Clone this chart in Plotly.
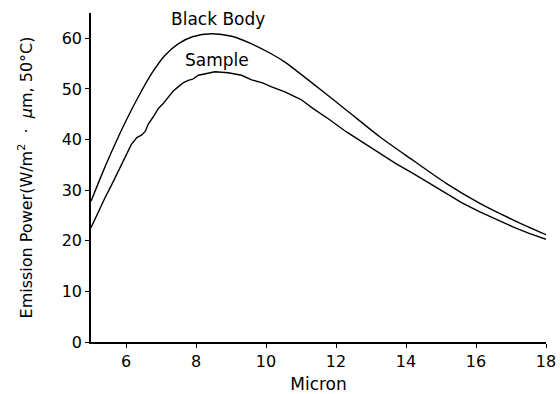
import plotly.graph_objects as go

bb_x = [5.0, 5.4, 5.78, 6.0, 6.35, 6.73, 7.11, 7.49, 7.9, 8.45, 9.02, 9.59, 10.16, 10.54, 11.35, 12.3, 13.26, 14.2, 15.16, 16.11, 17.07, 18.0]
bb_y = [27.8, 34.6, 40.5, 43.7, 48.4, 53.0, 56.6, 58.9, 60.3, 60.9, 60.4, 58.9, 56.9, 55.3, 51.0, 45.8, 40.5, 35.9, 31.3, 27.4, 24.1, 21.2]

sm_x = [5.0, 5.2, 5.4, 5.6, 5.78, 6.0, 6.15, 6.31, 6.45, 6.55, 6.64, 6.78, 6.92, 7.05, 7.21, 7.35, 7.49, 7.63, 7.78, 7.92, 8.07, 8.3, 8.54, 8.92, 9.3, 9.59, 9.9, 10.16, 10.54, 11.0, 11.35, 11.8, 12.3, 12.8, 13.26, 13.7, 14.2, 14.7, 15.16, 15.6, 16.11, 16.6, 17.07, 17.5, 18.0]
sm_y = [22.6, 25.6, 28.5, 31.2, 33.8, 37.0, 39.0, 40.4, 40.9, 41.6, 43.1, 44.5, 46.1, 47.0, 48.4, 49.6, 50.4, 51.2, 51.7, 52.0, 52.7, 53.0, 53.4, 53.2, 52.7, 51.8, 51.2, 50.4, 49.4, 47.9, 46.1, 44.0, 41.5, 39.3, 37.2, 35.3, 33.3, 31.2, 29.3, 27.5, 25.7, 24.1, 22.7, 21.5, 20.3]

x_ticks = [6, 8, 10, 12, 14, 16, 18]
y_ticks = [0, 10, 20, 30, 40, 50, 60]

FONT = "DejaVu Sans"

fig = go.Figure()
fig.add_trace(go.Scatter(x=bb_x, y=bb_y, mode="lines", line=dict(color="black", width=1.4, shape="spline", smoothing=0.8), showlegend=False))
fig.add_trace(go.Scatter(x=sm_x, y=sm_y, mode="lines", line=dict(color="black", width=1.4), showlegend=False))

fig.add_annotation(x=8.64, y=63.9, text="Black Body", showarrow=False, font=dict(family=FONT, size=17, color="black"))
fig.add_annotation(x=8.59, y=55.8, text="Sample", showarrow=False, font=dict(family=FONT, size=17, color="black"))

fig.update_layout(
    width=560, height=394,
    margin=dict(l=91, r=14, t=13, b=52),
    paper_bgcolor="white", plot_bgcolor="white",
    font=dict(family=FONT, color="black", size=16),
)
fig.update_xaxes(
    range=[5, 18], tickvals=x_ticks, showgrid=False, zeroline=False, automargin=False,
    showline=True, linecolor="black", linewidth=1.5,
    ticks="outside", ticklen=4, tickcolor="black",
    tickfont=dict(size=16),
    title=dict(text="Micron", font=dict(size=17), standoff=8),
)
fig.update_yaxes(
    range=[0, 65], tickvals=y_ticks, showgrid=False, zeroline=False, automargin=False,
    showline=True, linecolor="black", linewidth=1.5,
    ticks="outside", ticklen=4, tickcolor="black",
    tickfont=dict(size=16),
    title=dict(text="Emission Power(W/m<sup>2</sup>&nbsp; · &nbsp;<i>μ</i>m, 50°C)", font=dict(size=16), standoff=25),
)

fig.write_html(
    "out.html",
    config={"displayModeBar": False},
    post_script="document.body.style.margin='0';document.body.style.overflow='hidden';",
)
